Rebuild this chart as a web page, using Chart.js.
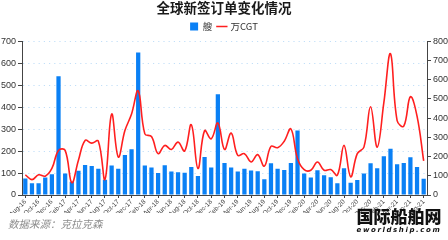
<!DOCTYPE html>
<html>
<head>
<meta charset="utf-8">
<script src="https://cdn.jsdelivr.net/npm/chart.js@4"></script>
<style>
  html, body { margin: 0; padding: 0; background: #fff; }
  #wrap { position: relative; width: 448px; height: 240px; }
  #src { position: absolute; left: 8px; top: 216px; font: italic 10.5px 'Noto Sans CJK SC', sans-serif; color: #8c8c8c; }
  #logo { position: absolute; left: 354px; top: 206px; width: 90px; text-align: center; }
  #logo .cn { font: 900 17px 'Noto Sans CJK SC', sans-serif; color: #111; letter-spacing: 0px; line-height: 20px; }
  #logo .en { font: italic bold 7px 'DejaVu Sans', sans-serif; color: #111; letter-spacing: 1.6px; line-height: 9px; }
</style>
</head>
<body>
<div id="wrap">
  <canvas id="chart" width="448" height="240"></canvas>
  <div id="src">数据来源：克拉克森</div>
  <div id="logo"><div class="cn">国际船舶网</div><div class="en">eworldship.com</div></div>
</div>
<script>
const months = [
  'Aug-16','Sep-16','Oct-16','Nov-16','Dec-16','Jan-17','Feb-17','Mar-17','Apr-17','May-17','Jun-17','Jul-17',
  'Aug-17','Sep-17','Oct-17','Nov-17','Dec-17','Jan-18','Feb-18','Mar-18','Apr-18','May-18','Jun-18','Jul-18',
  'Aug-18','Sep-18','Oct-18','Nov-18','Dec-18','Jan-19','Feb-19','Mar-19','Apr-19','May-19','Jun-19','Jul-19',
  'Aug-19','Sep-19','Oct-19','Nov-19','Dec-19','Jan-20','Feb-20','Mar-20','Apr-20','May-20','Jun-20','Jul-20',
  'Aug-20','Sep-20','Oct-20','Nov-20','Dec-20','Jan-21','Feb-21','Mar-21','Apr-21','May-21','Jun-21','Jul-21',
  'Aug-21'
];

// 艘
const ships = [
  75, 54, 54, 80, 95, 540, 98, 60, 110, 137, 132, 120,
  69, 134, 120, 182, 208, 649, 134, 125, 100, 135, 107, 104,
  101, 128, 86, 173, 125, 459, 146, 125, 107, 119, 111, 108,
  72, 144, 119, 114, 146, 293, 98, 80, 113, 90, 81, 53,
  122, 56, 68, 98, 144, 122, 176, 211, 140, 146, 172, 128,
  74
];

// 万CGT
const cgt = [
  105, 80, 105, 98, 138, 232, 232, 64, 181, 284, 270, 280,
  81, 421, 198, 335, 421, 542, 318, 304, 215, 258, 237, 275,
  229, 366, 138, 335, 292, 375, 237, 322, 206, 215, 172, 210,
  150, 253, 246, 280, 344, 189, 132, 129, 172, 129, 132, 103,
  258, 95, 215, 249, 459, 249, 480, 735, 387, 358, 511, 410,
  177
];

const axisColor = '#444';
const tickFont = { family: 'Liberation Sans, Arial, sans-serif', size: 9 };

new Chart(document.getElementById('chart'), {
  type: 'bar',
  data: {
    labels: months,
    datasets: [{
      label: '艘',
      data: ships,
      backgroundColor: '#0a80f5',
      borderWidth: 0,
      categoryPercentage: 1,
      barPercentage: 0.64,
      pointStyle: 'rect',
      yAxisID: 'y',
      order: 1
    }, {
      type: 'line',
      label: '万CGT',
      data: cgt,
      borderColor: '#ff1f1f',
      backgroundColor: '#ff1f1f',
      borderWidth: 1.6,
      pointRadius: 0,
      tension: 0.4,
      pointStyle: 'line',
      yAxisID: 'y1',
      order: 0
    }]
  },
  options: {
    responsive: false,
    animation: false,
    layout: { padding: { left: 0, right: 0, top: 0, bottom: 27 } },
    plugins: {
      title: {
        display: true,
        text: '全球新签订单变化情况',
        color: '#1a1a1a',
        font: { family: 'Noto Sans CJK SC', size: 13.5, weight: 'bold' },
        padding: { top: 0, bottom: 0 }
      },
      legend: {
        labels: {
          usePointStyle: true,
          boxWidth: 8,
          boxHeight: 8,
          padding: 5.5,
          color: '#333',
          font: { family: 'Noto Sans CJK SC', size: 9.5 },
          sort: (a, b) => a.datasetIndex - b.datasetIndex
        }
      },
      tooltip: { enabled: false }
    },
    scales: {
      x: {
        offset: true,
        grid: {
          offset: false,
          drawOnChartArea: false,
          tickLength: 3,
          color: c => (c.index % 2 === 0 ? axisColor : 'rgba(0,0,0,0)')
        },
        border: { color: axisColor },
        ticks: {
          autoSkip: false,
          maxRotation: 45,
          minRotation: 45,
          padding: 0,
          color: '#444',
          font: { family: 'Liberation Sans, Arial, sans-serif', size: 6.5 },
          callback: (v, i) => (i % 2 === 0 ? months[i] : '')
        },
        afterFit: s => { s.height = 18; }
      },
      y: {
        position: 'left',
        min: 0,
        max: 700,
        ticks: {
          stepSize: 50,
          padding: 2,
          color: '#333',
          font: tickFont,
          callback: v => (v % 100 === 0 ? v : '')
        },
        grid: {
          color: '#c2dff8',
          lineWidth: 1,
          tickLength: 4,
          tickColor: c => (c.tick && c.tick.value % 100 === 0 ? axisColor : 'rgba(0,0,0,0)'),
          tickBorderDash: []
        },
        border: { color: axisColor, dash: [1.2, 4] },
        afterFit: s => { s.width = 22; }
      },
      y1: {
        position: 'right',
        min: 0,
        max: 800,
        ticks: { stepSize: 100, padding: 2, color: '#333', font: tickFont },
        grid: { drawOnChartArea: false, tickLength: 4, color: axisColor },
        border: { color: axisColor },
        afterFit: s => { s.width = 21; }
      }
    }
  }
});
</script>
</body>
</html>
